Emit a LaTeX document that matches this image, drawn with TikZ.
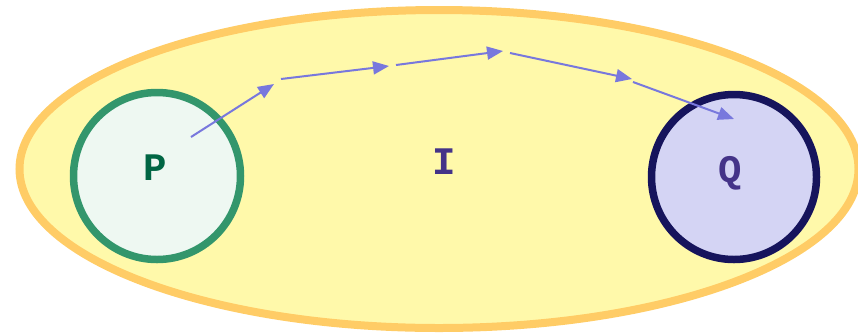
\documentclass[tikz,border=0pt]{standalone}
\usepackage{fontspec}
\setmonofont{Liberation Mono}
\usetikzlibrary{arrows.meta,shapes.geometric}
\definecolor{ellfill}{RGB}{255,249,170}
\definecolor{elldraw}{RGB}{255,204,102}
\definecolor{pfill}{RGB}{238,248,242}
\definecolor{pdraw}{RGB}{51,150,108}
\definecolor{ptext}{RGB}{0,102,68}
\definecolor{qfill}{RGB}{212,212,244}
\definecolor{qdraw}{RGB}{22,20,92}
\definecolor{qtext}{RGB}{68,51,136}
\definecolor{arr}{RGB}{120,120,221}
\begin{document}
\begin{tikzpicture}[x=1pt,y=-1pt,
  setnode/.style={circle,inner sep=0pt,minimum size=#1},
  lbl/.style={font=\ttfamily\bfseries\fontsize{39}{39}\selectfont,inner sep=0pt},
  flow/.style={draw=arr,line width=2pt,-{Triangle[length=16pt,width=13pt]}}]
\useasboundingbox (0,0) rectangle (858,333);
\node[ellipse,minimum width=839pt,minimum height=318pt,fill=ellfill,draw=elldraw,line width=8pt,inner sep=0pt] (I) at (439,169) {};
\node[setnode=167pt,fill=pfill,draw=pdraw,line width=7.5pt] (P) at (157,176) {};
\node[setnode=165pt,fill=qfill,draw=qdraw,line width=7.5pt] (Q) at (734,177) {};
\node[lbl,text=ptext] (Pl) at (155,168) {P};
\node[lbl,text=qtext] (Il) at (444,162) {I};
\node[lbl,text=qtext] (Ql) at (730,173) {Q};
\coordinate (a0) at (191,137);
\coordinate (a1) at (274,84);
\coordinate (b0) at (281,79);
\coordinate (b1) at (389,66);
\coordinate (c0) at (396,65);
\coordinate (c1) at (503,51);
\coordinate (d0) at (510,53);
\coordinate (d1) at (632,79);
\coordinate (e0) at (633,82);
\coordinate (e1) at (734,119);
\draw[flow] (a0) -- (a1);
\draw[flow] (b0) -- (b1);
\draw[flow] (c0) -- (c1);
\draw[flow] (d0) -- (d1);
\draw[flow] (e0) -- (e1);
\end{tikzpicture}
\end{document}
